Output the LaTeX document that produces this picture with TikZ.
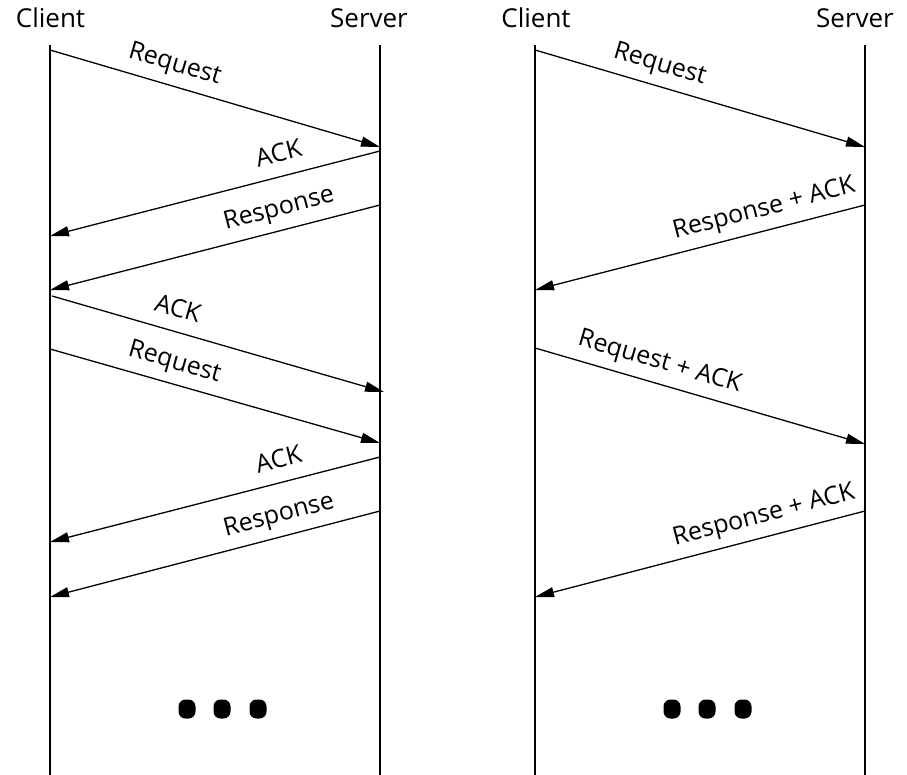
\documentclass[tikz,border=0pt]{standalone}
\usepackage{fontspec}
\setmainfont{Open Sans}
\usetikzlibrary{arrows.meta}
\begin{document}
\begin{tikzpicture}[x=1pt,y=-1pt,
  life/.style={line width=1.3pt},
  msg/.style={line width=1.3pt,-{Triangle[length=19pt,width=10pt]}},
  lbl/.style={sloped,anchor=south,inner xsep=0pt,inner ysep=8pt,text depth=6pt,font=\fontsize{25}{29}\selectfont},
  title/.style={anchor=base,inner sep=0pt,font=\fontsize{26}{30}\selectfont},
  dotbox/.style={fill=black,rounded corners=7pt,minimum width=17pt,minimum height=19pt,inner sep=0pt}]
\useasboundingbox (0,0) rectangle (907,775);
% titles
\node[title] (tcl) at (50.5,28) {Client};
\node[title] (tsl) at (369,28) {Server};
\node[title] (tcr) at (536,28) {Client};
\node[title] (tsr) at (855,28) {Server};
% lifelines
\coordinate (cltop) at (50,45);  \coordinate (clbot) at (50,775);
\coordinate (sltop) at (380,45); \coordinate (slbot) at (380,775);
\coordinate (crtop) at (535,45); \coordinate (crbot) at (535,775);
\coordinate (srtop) at (865,45); \coordinate (srbot) at (865,775);
\draw[life] (cltop) -- (clbot);
\draw[life] (sltop) -- (slbot);
\draw[life] (crtop) -- (crbot);
\draw[life] (srtop) -- (srbot);
% left message endpoints
\coordinate (a1s) at (50,50);   \coordinate (a1e) at (380,147);
\coordinate (a2s) at (380,151); \coordinate (a2e) at (50,236);
\coordinate (a3s) at (380,205); \coordinate (a3e) at (50,290);
\coordinate (a4s) at (52,296);  \coordinate (a4e) at (384,392);
\coordinate (a5s) at (50,349);  \coordinate (a5e) at (380,443);
\coordinate (a6s) at (380,457); \coordinate (a6e) at (50,542);
\coordinate (a7s) at (380,511); \coordinate (a7e) at (50,597);
% right message endpoints
\coordinate (b1s) at (535,50);  \coordinate (b1e) at (865,147);
\coordinate (b2s) at (865,205); \coordinate (b2e) at (535,290);
\coordinate (b3s) at (535,348); \coordinate (b3e) at (865,444);
\coordinate (b4s) at (865,511); \coordinate (b4e) at (535,597);
% left messages
\draw[msg] (a1s) -- node[lbl,pos=0.36] (l1) {Request} (a1e);
\draw[msg] (a2s) -- node[lbl,pos=0.29] (l2) {ACK} (a2e);
\draw[msg] (a3s) -- node[lbl,pos=0.29] (l3) {Response} (a3e);
\draw[msg] (a4s) -- node[lbl,pos=0.36] (l4) {ACK} (a4e);
\draw[msg] (a5s) -- node[lbl,pos=0.36] (l5) {Request} (a5e);
\draw[msg] (a6s) -- node[lbl,pos=0.29] (l6) {ACK} (a6e);
\draw[msg] (a7s) -- node[lbl,pos=0.29] (l7) {Response} (a7e);
% right messages
\draw[msg] (b1s) -- node[lbl,pos=0.36] (m1) {Request} (b1e);
\draw[msg] (b2s) -- node[lbl,pos=0.29] (m2) {Response + ACK} (b2e);
\draw[msg] (b3s) -- node[lbl,pos=0.36] (m3) {Request + ACK} (b3e);
\draw[msg] (b4s) -- node[lbl,pos=0.29] (m4) {Response + ACK} (b4e);
% dots
\node[dotbox] (d1) at (187,709) {};
\node[dotbox] (d2) at (222,709) {};
\node[dotbox] (d3) at (258,709) {};
\node[dotbox] (d4) at (672,709) {};
\node[dotbox] (d5) at (707,709) {};
\node[dotbox] (d6) at (743,709) {};
\end{tikzpicture}
\end{document}
